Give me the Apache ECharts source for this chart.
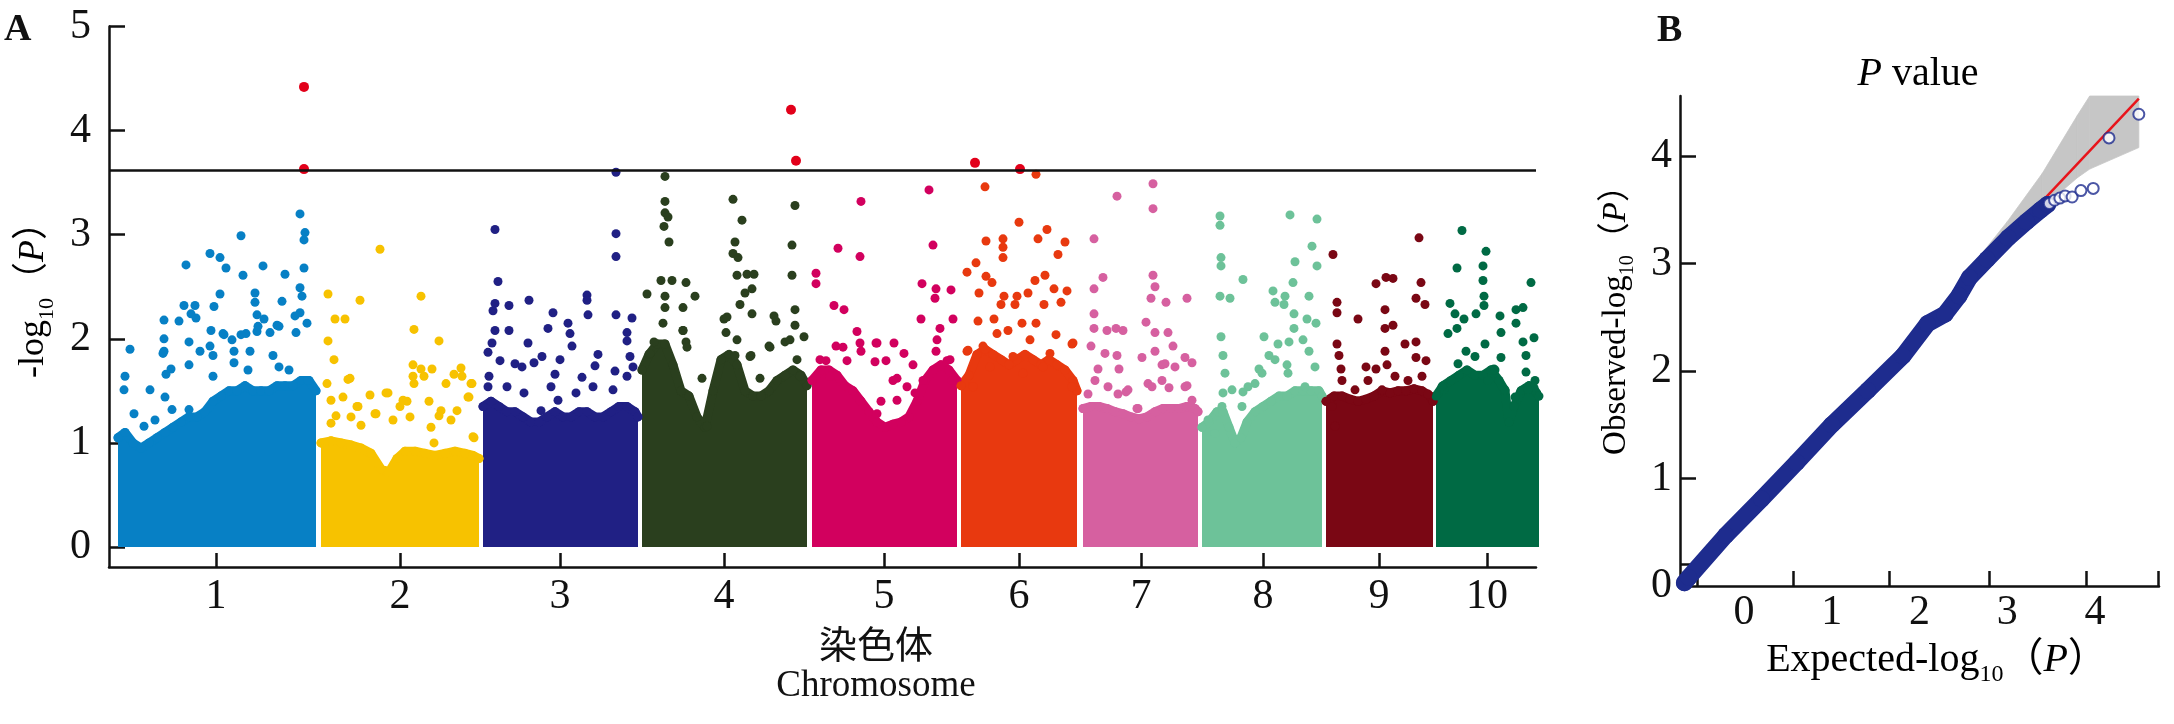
<!DOCTYPE html>
<html><head><meta charset="utf-8">
<script src="https://cdn.jsdelivr.net/npm/echarts@6/dist/echarts.min.js"></script>
<style>html,body{margin:0;padding:0;background:#fff}#c{width:2174px;height:724px}</style>
</head><body><div id="c"></div>
<script>
// ---------- Panel A: Manhattan plot ----------
const chrNames = ['1','2','3','4','5','6','7','8','9','10'];
const chrTicks = [107, 291, 451, 615, 775, 910, 1032, 1154, 1270, 1378];
const chrColors = ['#0780C5','#F7C200','#202084','#2A3F1E','#D2005E','#E8390F','#D660A0','#6DC299','#7A0714','#006A44'];
const yTicks = [0, 1, 2, 3, 4, 5];
const threshold = 3.62;

// upper edge of the dense mass of SNPs per chromosome [position, -log10 P]
const chr1Top = [[9,1.05],[16,1.1],[24,1.0],[32,0.95],[40,1.0],[48,1.05],[56,1.1],[64,1.15],[72,1.2],[80,1.25],[88,1.25],[96,1.3],[104,1.4],[112,1.45],[120,1.5],[128,1.5],[136,1.55],[144,1.5],[152,1.5],[160,1.5],[168,1.55],[176,1.55],[184,1.55],[192,1.6],[200,1.6],[207,1.5]];
const chr2Top = [[212,1.0],[222,1.02],[232,1.0],[242,0.98],[252,0.95],[262,0.9],[272,0.75],[280,0.72],[288,0.85],[296,0.92],[306,0.92],[316,0.9],[326,0.88],[336,0.9],[346,0.92],[356,0.9],[364,0.88],[370,0.85]];
const chr3Top = [[374,1.35],[382,1.4],[390,1.35],[398,1.3],[406,1.3],[414,1.25],[422,1.2],[430,1.2],[438,1.25],[446,1.3],[454,1.25],[462,1.25],[470,1.3],[478,1.3],[486,1.25],[494,1.25],[502,1.3],[510,1.35],[518,1.35],[526,1.3],[529,1.25]];
const chr4Top = [[533,1.7],[540,1.85],[548,1.95],[556,1.95],[564,1.75],[572,1.5],[580,1.45],[588,1.25],[596,1.15],[604,1.5],[612,1.8],[620,1.85],[628,1.75],[636,1.5],[644,1.45],[652,1.45],[660,1.5],[668,1.6],[676,1.65],[684,1.7],[692,1.65],[698,1.55]];
const chr5Top = [[703,1.6],[712,1.7],[720,1.7],[728,1.65],[736,1.55],[744,1.5],[752,1.4],[760,1.3],[768,1.2],[776,1.15],[784,1.18],[792,1.2],[800,1.25],[808,1.4],[816,1.6],[824,1.7],[832,1.75],[840,1.7],[848,1.6]];
const chr6Top = [[852,1.55],[860,1.65],[868,1.85],[876,1.9],[884,1.85],[892,1.8],[900,1.75],[908,1.8],[916,1.85],[924,1.8],[932,1.75],[940,1.8],[948,1.75],[956,1.7],[964,1.6],[968,1.5]];
const chr7Top = [[974,1.33],[982,1.35],[990,1.35],[998,1.33],[1006,1.3],[1014,1.28],[1022,1.25],[1030,1.23],[1038,1.25],[1046,1.3],[1054,1.33],[1062,1.33],[1070,1.33],[1078,1.35],[1086,1.33],[1089,1.3]];
const chr8Top = [[1093,1.15],[1100,1.2],[1108,1.3],[1114,1.3],[1120,1.15],[1126,1.0],[1132,1.05],[1138,1.2],[1146,1.3],[1154,1.35],[1162,1.4],[1170,1.45],[1178,1.45],[1186,1.5],[1194,1.5],[1202,1.5],[1210,1.5],[1213,1.45]];
const chr9Top = [[1217,1.4],[1225,1.45],[1233,1.45],[1241,1.42],[1249,1.4],[1257,1.42],[1265,1.45],[1273,1.5],[1281,1.48],[1289,1.5],[1297,1.5],[1305,1.52],[1313,1.5],[1321,1.45],[1324,1.4]];
const chr10Top = [[1327,1.45],[1334,1.55],[1342,1.6],[1350,1.65],[1358,1.7],[1366,1.65],[1374,1.65],[1382,1.7],[1390,1.6],[1396,1.5],[1400,1.2],[1405,1.35],[1412,1.5],[1420,1.55],[1426,1.5],[1430,1.45]];

// individual SNPs standing above the mass
const chr1Pts = [[191,3.20],[196,3.02],[195,2.95],[132,2.99],[101,2.82],[111,2.78],[117,2.68],[77,2.71],[134,2.61],[154,2.70],[176,2.62],[195,2.68],[111,2.43],[146,2.44],[146,2.35],[173,2.36],[191,2.49],[193,2.41],[75,2.32],[86,2.32],[105,2.31],[55,2.18],[70,2.17],[87,2.20],[148,2.23],[155,2.19],[168,2.13],[55,2.00],[21,1.90],[102,2.08],[114,2.05],[123,1.99],[137,2.05],[148,2.07],[161,2.06],[186,2.22],[198,2.15],[187,2.06],[16,1.64],[55,1.88],[80,1.97],[91,1.88],[104,1.84],[125,1.88],[141,1.88],[164,1.84],[41,1.51],[57,1.66],[80,1.75],[62,1.71],
  [15,1.51],[54,1.86],[56,1.44],[82,2.24],[101,1.93],[115,2.04],[104,1.64],[132,2.04],[149,2.12],[170,2.12],[170,1.73],[191,2.25],[199,1.60],[180,1.70],[139,1.70],[125,1.77],[80,1.32],[35,1.16],[25,1.28],[63,1.32],[46,1.22]];
const chr2Pts = [[271,2.86],[219,2.43],[251,2.37],[312,2.41],[226,2.19],[236,2.19],[305,2.09],[330,1.98],[219,1.98],[225,1.80],[241,1.62],[218,1.57],[261,1.46],[279,1.48],[304,1.75],[312,1.71],[323,1.71],[352,1.72],[345,1.66],[362,1.57],[337,1.57],[359,1.44],[305,1.57],[298,1.40],[234,1.44],[248,1.35],[266,1.28],[291,1.35],[320,1.40],[330,1.26],[348,1.31],[364,1.06],[325,1.00],[227,1.26],[252,1.17],
  [239,1.61],[222,1.41],[249,1.35],[267,1.28],[277,1.48],[294,1.41],[304,1.64],[315,1.64],[353,1.64],[363,1.57],[360,1.44],[332,1.31],[342,1.22],[222,1.19],[242,1.25],[284,1.22],[301,1.25],[322,1.15],[365,1.05],[215,0.99]];
const chr3Pts = [[507,3.60],[386,3.05],[507,3.01],[507,2.79],[389,2.55],[386,2.34],[384,2.27],[400,2.32],[420,2.37],[478,2.42],[478,2.37],[479,2.23],[444,2.25],[507,2.23],[523,2.20],[386,2.08],[400,2.08],[439,2.10],[459,2.15],[461,2.05],[419,1.96],[518,2.06],[518,1.98],[383,1.96],[463,1.93],[433,1.83],[451,1.80],[489,1.85],[521,1.83],[379,1.87],[391,1.79],[406,1.76],[413,1.73],[446,1.66],[473,1.63],[486,1.74],[506,1.69],[524,1.73],[379,1.54],
  [380,1.64],[398,1.54],[415,1.48],[442,1.54],[449,1.41],[467,1.48],[484,1.54],[504,1.51],[518,1.64],[432,1.31],[425,1.77]];
const chr4Pts = [[556,3.56],[556,3.32],[556,3.21],[559,3.17],[555,3.08],[560,2.93],[624,3.34],[633,3.14],[626,2.93],[624,2.82],[629,2.78],[628,2.61],[638,2.62],[645,2.62],[636,2.44],[631,2.33],[643,2.48],[538,2.43],[552,2.56],[563,2.56],[577,2.54],[586,2.41],[556,2.41],[556,2.30],[574,2.30],[615,2.19],[643,2.24],[665,2.22],[667,2.17],[686,3.28],[683,2.90],[683,2.61],[686,2.28],[686,2.13],[660,1.93],[676,1.97],[695,2.02],[545,1.97],[574,2.08],[577,1.97],[593,1.62],[617,2.06],[626,1.84],[642,1.84],[651,1.62],
  [554,2.15],[574,2.08],[578,1.92],[618,2.21],[628,1.99],[641,1.83],[661,1.92],[681,1.99],[688,1.80],[691,1.64],[541,1.86],[598,1.16]];
const chr5Pts = [[752,3.32],[820,3.43],[824,2.90],[729,2.87],[751,2.79],[707,2.63],[707,2.53],[813,2.53],[842,2.47],[827,2.48],[826,2.39],[725,2.32],[735,2.28],[748,2.07],[767,1.96],[785,1.96],[812,2.19],[844,2.19],[831,2.10],[727,1.93],[717,1.79],[738,1.79],[795,1.86],[804,1.75],[752,1.88],[777,1.79],[788,1.62],[827,1.88],[838,1.79],[772,1.40],[806,1.48],
  [711,1.80],[721,1.64],[734,1.92],[751,1.96],[768,1.96],[766,1.78],[784,1.60],[788,1.41],[798,1.54],[814,1.60],[828,1.99],[841,1.80],[843,1.60],[768,1.28],[751,1.41]];
const chr6Pts = [[927,3.58],[876,3.46],[910,3.12],[938,3.05],[877,2.94],[894,2.96],[894,2.88],[929,2.96],[956,2.93],[949,2.81],[894,2.78],[867,2.73],[858,2.64],[877,2.60],[936,2.61],[926,2.56],[945,2.48],[958,2.46],[870,2.44],[883,2.54],[895,2.41],[908,2.41],[919,2.44],[952,2.35],[892,2.33],[906,2.33],[935,2.33],[869,2.17],[885,2.19],[899,2.08],[913,2.15],[927,2.15],[947,2.04],[963,1.95],[858,1.88],[874,1.93],
  [859,1.89],[864,1.54],[888,2.05],[904,1.83],[921,1.99],[941,1.86],[964,1.96],[963,1.54],[881,1.73],[914,1.67],[934,1.73]];
const chr7Pts = [[1044,3.49],[1008,3.37],[1044,3.25],[985,2.96],[994,2.59],[985,2.48],[1044,2.61],[1046,2.50],[1042,2.39],[1057,2.35],[1078,2.39],[985,2.24],[985,2.10],[998,2.08],[1007,2.10],[1014,2.08],[1037,2.16],[1046,2.06],[1059,2.06],[1064,1.93],[996,1.86],[1008,1.84],[982,1.93],[1033,1.82],[1046,1.88],[1053,1.75],[1076,1.82],[1083,1.77],[989,1.71],[1010,1.71],[1017,1.49],[1028,1.33],[1039,1.57],[1060,1.53],[1078,1.55],
  [986,1.60],[999,1.54],[1009,1.47],[1019,1.51],[1029,1.33],[1043,1.54],[1053,1.60],[1066,1.73],[1076,1.54],[1083,1.41],[979,1.47],[1056,1.76]];
const chr8Pts = [[1111,3.18],[1111,3.09],[1181,3.19],[1208,3.15],[1203,2.89],[1112,2.78],[1112,2.70],[1186,2.74],[1208,2.70],[1134,2.57],[1111,2.41],[1121,2.39],[1164,2.46],[1176,2.41],[1184,2.54],[1200,2.41],[1166,2.35],[1175,2.33],[1185,2.24],[1198,2.19],[1185,2.10],[1207,2.15],[1112,2.02],[1155,2.02],[1169,1.95],[1180,1.97],[1194,1.99],[1114,1.84],[1160,1.84],[1178,1.75],[1200,1.88],[1150,1.71],[1134,1.49],[1146,1.57],[1114,1.48],
  [1099,1.22],[1113,1.35],[1123,1.51],[1133,1.35],[1139,1.54],[1153,1.67],[1166,1.80],[1179,1.67],[1196,1.54],[1206,1.73],[1106,1.09],[1116,1.67]];
const chr9Pts = [[1224,2.81],[1310,2.97],[1277,2.59],[1284,2.58],[1267,2.53],[1312,2.54],[1307,2.39],[1316,2.33],[1228,2.35],[1228,2.25],[1249,2.19],[1276,2.28],[1276,2.10],[1284,2.13],[1296,1.95],[1307,1.97],[1228,1.95],[1230,1.84],[1276,1.88],[1307,1.82],[1257,1.73],[1267,1.71],[1278,1.75],[1232,1.71],[1317,1.79],
  [1223,1.35],[1233,1.60],[1246,1.51],[1259,1.60],[1273,1.51],[1286,1.64],[1299,1.60],[1313,1.64],[1319,1.47],[1226,1.16]];
const chr10Pts = [[1353,3.04],[1377,2.84],[1348,2.68],[1374,2.70],[1374,2.56],[1422,2.54],[1341,2.34],[1375,2.41],[1375,2.32],[1346,2.24],[1355,2.19],[1367,2.24],[1391,2.22],[1407,2.28],[1414,2.30],[1407,2.15],[1339,2.05],[1348,2.10],[1392,2.06],[1425,2.01],[1414,1.97],[1376,1.95],[1392,1.82],[1417,1.84],[1385,1.71],[1417,1.68],[1425,1.53],[1335,1.51],[1357,1.88],
  [1333,1.54],[1349,1.76],[1366,1.83],[1386,1.70],[1396,1.51],[1406,1.44],[1419,1.51],[1426,1.60],[1379,1.60]];
const sigPts = [[195,4.42],[195,3.63],[682,4.20],[687,3.71],[866,3.69],[911,3.63]];

// ---------- Panel B: QQ plot ----------
const qqBand = [[-0.68,0.03],[-0.63,0.08],[-0.21,0.47],[0.20,0.81],[0.60,1.15],[1.00,1.50],[1.41,1.82],[1.81,2.14],[2.09,2.44],[2.29,2.53],[2.45,2.70],[2.57,2.87],[2.77,3.04],[3.01,3.24],[3.22,3.39],[3.38,3.50],[3.46,3.55]];
const qqTail = [[3.48,3.56],[3.54,3.59],[3.60,3.61],[3.66,3.63],[3.74,3.62],[3.84,3.68],[3.98,3.70],[4.16,4.17],[4.50,4.39]];
const qqLine = [[-0.73,0],[4.50,4.535]];
const ciX = [2.6, 3.0, 3.4, 3.8, 3.94, 4.5];
const ciLow = [2.87, 3.17, 3.52, 3.80, 3.88, 4.08];
const ciUp = [2.98, 3.39, 3.84, 4.38, 4.56, 4.56];
const qqXLabels = [0, 1, 2, 3, 4];
const qqXTickPos = [-0.535, 0.56, 1.66, 2.79, 3.90, 4.72];
const qqYLabels = [0, 1, 2, 3, 4];
const qqYTickPos = [0.2, 1, 2, 3, 4];

const serif = "'Liberation Serif', 'Noto Sans CJK SC', serif";
const ink = '#111';
const qqBlue = '#1E2C8E';
const chrTops = [chr1Top,chr2Top,chr3Top,chr4Top,chr5Top,chr6Top,chr7Top,chr8Top,chr9Top,chr10Top];
const chrPts = [chr1Pts,chr2Pts,chr3Pts,chr4Pts,chr5Pts,chr6Pts,chr7Pts,chr8Pts,chr9Pts,chr10Pts];

const series = [];
chrTops.forEach((top, i) => {
  const c = chrColors[i];
  series.push({
    type: 'line', xAxisIndex: 0, yAxisIndex: 0, data: top, clip: false, silent: true,
    symbol: 'circle', symbolSize: 9, showSymbol: true, itemStyle: { color: c },
    lineStyle: { color: c, width: 9, cap: 'round', join: 'round' },
    areaStyle: { color: c, opacity: 1 }, z: 2
  });
  series.push({
    type: 'scatter', xAxisIndex: 0, yAxisIndex: 0, data: chrPts[i], clip: false, silent: true,
    symbolSize: 9, itemStyle: { color: c, opacity: 1 }, z: 3
  });
});
series.push({
  type: 'scatter', xAxisIndex: 0, yAxisIndex: 0, data: sigPts, silent: true,
  symbolSize: 10, itemStyle: { color: '#E2001A', opacity: 1 }, z: 4,
  markLine: { silent: true, symbol: 'none', label: { show: false },
    lineStyle: { color: ink, width: 2.5, type: 'solid' }, data: [{ yAxis: threshold }] }
});
// QQ confidence band drawn as quads between consecutive (x, low, up) rows
series.push({
  type: 'custom', xAxisIndex: 1, yAxisIndex: 1, silent: true, z: 2,
  data: ciX.map((x, i) => [x, ciLow[i], ciUp[i]]),
  encode: { x: 0, y: [1, 2] },
  renderItem: (params, api) => {
    const i = params.dataIndex;
    if (i >= ciX.length - 1) return null;
    const pts = [api.coord([ciX[i], ciLow[i]]), api.coord([ciX[i], ciUp[i]]),
                 api.coord([ciX[i + 1], ciUp[i + 1]]), api.coord([ciX[i + 1], ciLow[i + 1]])];
    return { type: 'polygon', shape: { points: pts },
      style: { fill: '#C6C6C6', stroke: '#C6C6C6', lineWidth: 0.8 } };
  }
});
series.push({ type: 'line', xAxisIndex: 1, yAxisIndex: 1, data: qqLine, symbol: 'none', silent: true,
  lineStyle: { color: '#E8141B', width: 2.5 }, z: 3 });
series.push({ type: 'line', xAxisIndex: 1, yAxisIndex: 1, data: qqBand, symbol: 'circle', symbolSize: 17,
  showSymbol: true, silent: true, itemStyle: { color: qqBlue },
  lineStyle: { color: qqBlue, width: 17, cap: 'round', join: 'round' }, z: 4 });
series.push({ type: 'scatter', xAxisIndex: 1, yAxisIndex: 1, data: qqTail, symbol: 'emptyCircle', symbolSize: 11,
  silent: true, itemStyle: { color: qqBlue, borderColor: qqBlue, borderWidth: 3 }, z: 5 });

const axisLine = { show: true, onZero: false, lineStyle: { color: ink, width: 2.5 } };
const tickStyle = { color: ink, width: 2.5 };
const labelFont = { fontSize: 42, fontFamily: serif, color: ink };

function richSet(size) {
  return {
    a: { fontSize: size, fontFamily: serif, color: ink, lineHeight: Math.round(size * 1.33) },
    s: { fontSize: Math.round(size * 0.6), fontFamily: serif, color: ink, lineHeight: Math.round(size * 0.6), verticalAlign: 'bottom' },
    i: { fontSize: size, fontFamily: serif, color: ink, fontStyle: 'italic', lineHeight: Math.round(size * 1.33) }
  };
}

const option = {
  animation: false,
  backgroundColor: '#fff',
  grid: [
    { left: 109, top: 26.5, width: 1427, height: 540.5 },
    { left: 1680, top: 96, width: 479, height: 490 }
  ],
  xAxis: [
    { gridIndex: 0, type: 'value', min: 0, max: 1427, axisLine,
      axisTick: { show: true, inside: true, length: 14, lineStyle: tickStyle, customValues: chrTicks },
      axisLabel: Object.assign({ customValues: chrTicks, margin: 9,
        formatter: v => chrNames[chrTicks.indexOf(v)] }, labelFont),
      splitLine: { show: false } },
    { gridIndex: 1, type: 'value', min: -0.73, max: 4.73, axisLine,
      axisTick: { show: true, inside: true, length: 15, lineStyle: tickStyle, customValues: qqXTickPos },
      axisLabel: Object.assign({ customValues: qqXLabels, margin: 6 }, labelFont),
      splitLine: { show: false } }
  ],
  yAxis: [
    { gridIndex: 0, type: 'value', min: -0.192, max: 5, axisLine,
      axisTick: { show: true, inside: true, length: 16, lineStyle: tickStyle, customValues: yTicks },
      axisLabel: Object.assign({ customValues: yTicks, margin: 18 }, labelFont),
      splitLine: { show: false } },
    { gridIndex: 1, type: 'value', min: 0, max: 4.56, axisLine,
      axisTick: { show: true, inside: true, length: 16, lineStyle: tickStyle, customValues: qqYTickPos },
      axisLabel: Object.assign({ customValues: qqYLabels, margin: 8 }, labelFont),
      splitLine: { show: false } }
  ],
  graphic: [
    { type: 'text', x: 4, y: 30, style: { text: 'A', font: "bold 38px 'Liberation Serif'", fill: ink, verticalAlign: 'middle' } },
    { type: 'text', x: 1657, y: 31, style: { text: 'B', font: "bold 38px 'Liberation Serif'", fill: ink, verticalAlign: 'middle' } },
    { type: 'text', x: 34, y: 291, rotation: Math.PI / 2,
      style: { text: '{a|-log}{s|10}{a|（}{i|P}{a|）}', rich: richSet(36), align: 'center', verticalAlign: 'middle' } },
    { type: 'text', x: 876, y: 644,
      style: { text: '染色体', font: "38px 'Noto Sans CJK SC'", fill: ink, align: 'center', verticalAlign: 'middle' } },
    { type: 'text', x: 876, y: 686,
      style: { text: 'Chromosome', font: "37px 'Liberation Serif'", fill: ink, align: 'center', verticalAlign: 'middle' } },
    { type: 'text', x: 1918, y: 74,
      style: { text: '{i|P}{a| value}', rich: richSet(40), align: 'center', verticalAlign: 'middle' } },
    { type: 'text', x: 1616, y: 312, rotation: Math.PI / 2,
      style: { text: '{a|Observed-log}{s|10}{a|（}{i|P}{a|）}', rich: richSet(33), align: 'center', verticalAlign: 'middle' } },
    { type: 'text', x: 1937, y: 660,
      style: { text: '{a|Expected-log}{s|10}{a|（}{i|P}{a|）}', rich: richSet(40), align: 'center', verticalAlign: 'middle' } }
  ],
  series
};

const chart = echarts.init(document.getElementById('c'), null, { renderer: 'canvas' });
chart.setOption(option);
</script>
</body></html>
